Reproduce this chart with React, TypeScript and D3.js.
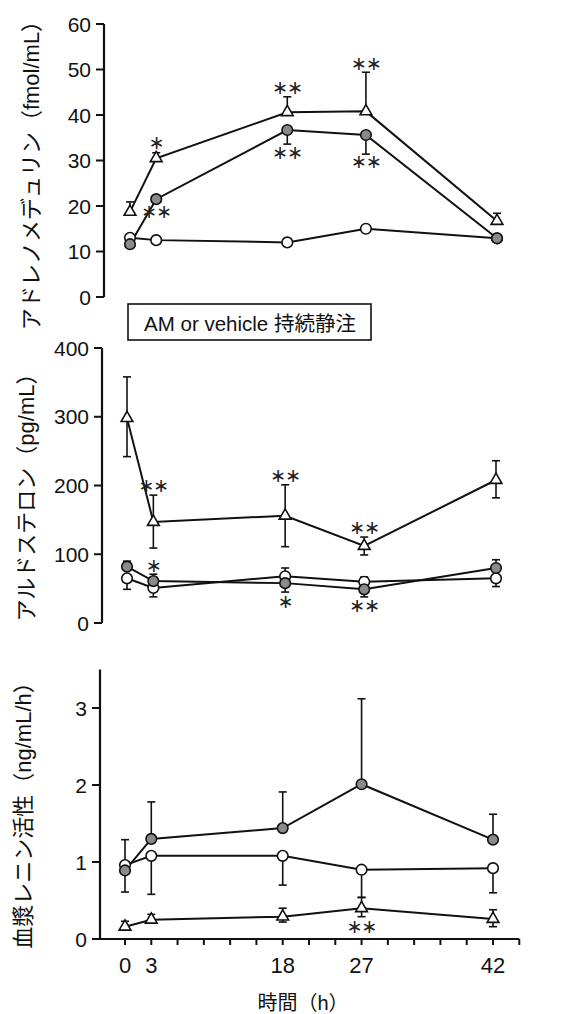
import React from "react";
import * as d3 from "d3";

// ---------- data ----------
const hours = [0, 3, 18, 27, 42];
const xTickLabels = [0, 3, 18, 27, 42];

// Panel 1: adrenomedullin (fmol/mL)
const amOpen = [13.0, 12.5, 12.0, 15.0, 12.9];
const amFilled = [11.6, 21.5, 36.7, 35.6, 12.9];
const amFilledLo = [null, null, 33.6, 31.4, null];
const amTri = [18.7, 30.5, 40.6, 40.8, 16.7];
const amTriHi = [20.9, 31.7, 44.0, 49.4, 18.4];
const amTicks = [0, 10, 20, 30, 40, 50, 60];
const amStars = [
  { t: 3, v: 33.8, s: "*" },
  { t: 18, v: 45.9, s: "**" },
  { t: 27, v: 51.2, s: "**" },
  { t: 3, v: 18.7, s: "**" },
  { t: 18, v: 31.6, s: "**" },
  { t: 27, v: 29.7, s: "**" },
];

// Panel 2: aldosterone (pg/mL)
const aldTri = [298, 147, 156, 112, 208];
const aldTriHi = [358, 186, 201, 125, 236];
const aldTriLo = [242, 109, 111, 99, 182];
const aldFilled = [82, 61, 58, 49, 80];
const aldFilledHi = [90, 71, null, null, 92];
const aldFilledLo = [null, null, 45, 38, null];
const aldOpen = [65, 51, 68, 60, 65];
const aldOpenHi = [null, null, 80, 67, null];
const aldOpenLo = [49, 38, null, null, 53];
const aldTicks = [0, 100, 200, 300, 400];
const aldStars = [
  { t: 3, v: 199, s: "**" },
  { t: 18, v: 214, s: "**" },
  { t: 27, v: 138, s: "**" },
  { t: 3, v: 83, s: "*" },
  { t: 18, v: 31, s: "*" },
  { t: 27, v: 25, s: "**" },
];

// Panel 3: plasma renin activity (ng/mL/h)
const praFilled = [0.89, 1.3, 1.44, 2.01, 1.29];
const praFilledHi = [1.29, 1.78, 1.91, 3.12, 1.62];
const praOpen = [0.96, 1.08, 1.08, 0.9, 0.92];
const praOpenLo = [0.61, 0.58, 0.7, 0.54, 0.6];
const praTri = [0.16, 0.25, 0.29, 0.4, 0.26];
const praTriHi = [0.23, 0.32, 0.4, 0.54, 0.38];
const praTriLo = [null, null, 0.22, 0.29, 0.16];
const praTicks = [0, 1, 2, 3];
const praStars = [{ t: 27, v: 0.16, s: "**" }];

const xMinorTicks = d3.range(0, 46, 3);

type Series = {
  kind: "open" | "filled" | "tri";
  v: number[];
  hi?: (number | null)[];
  lo?: (number | null)[];
};

const FONT = "'Liberation Sans', Arial, 'Noto Sans CJK JP', sans-serif";
const CJK = "'Liberation Sans', 'Noto Sans CJK JP', sans-serif";

function Panel(props: {
  axisX: number;
  xr: [number, number];
  yDomain: [number, number];
  yRange: [number, number];
  ticks: number[];
  series: Series[];
  stars: { t: number; v: number; s: string }[];
  title: string;
  titleX: number;
  titleY: number;
}) {
  const x = d3.scaleLinear().domain([0, 42]).range(props.xr);
  const y = d3.scaleLinear().domain(props.yDomain).range(props.yRange);
  const line = d3
    .line<number>()
    .x((_, i) => x(hours[i]))
    .y((d) => y(d));
  const ax = props.axisX;
  const tri = d3.symbol().type(d3.symbolTriangle).size(60);
  return (
    <g>
      <line x1={ax} x2={ax} y1={props.yRange[1]} y2={props.yRange[0]} stroke="#111" strokeWidth={2.2} />
      {props.ticks.map((t) => (
        <g key={t}>
          <line x1={ax - 8} x2={ax} y1={y(t)} y2={y(t)} stroke="#111" strokeWidth={2} />
          <text x={ax - 13} y={y(t)} dy="0.36em" textAnchor="end" fontSize={21} fontFamily={FONT} fill="#111">
            {t}
          </text>
        </g>
      ))}
      <text
        transform={`translate(${props.titleX},${props.titleY}) rotate(-90)`}
        textAnchor="middle"
        dy="0.36em"
        fontSize={22}
        fontFamily={CJK}
        fill="#111"
      >
        {props.title}
      </text>
      {props.series.map((s, si) => (
        <path key={"l" + si} d={line(s.v) || ""} fill="none" stroke="#111" strokeWidth={2} />
      ))}
      {props.series.map((s, si) =>
        s.v.map((v, i) => {
          const cx = x(hours[i]);
          const ends = [s.hi ? s.hi[i] : null, s.lo ? s.lo[i] : null];
          return ends.map((e, k) =>
            e == null ? null : (
              <g key={`e${si}-${i}-${k}`}>
                <line x1={cx} x2={cx} y1={y(v)} y2={y(e)} stroke="#111" strokeWidth={1.6} />
                <line x1={cx - 4} x2={cx + 4} y1={y(e)} y2={y(e)} stroke="#111" strokeWidth={1.6} />
              </g>
            )
          );
        })
      )}
      {props.series.map((s, si) =>
        s.v.map((v, i) => {
          const cx = x(hours[i]);
          const cy = y(v);
          if (s.kind === "tri")
            return (
              <path
                key={`m${si}-${i}`}
                d={tri() || ""}
                transform={`translate(${cx},${cy})`}
                fill="#fff"
                stroke="#111"
                strokeWidth={1.6}
              />
            );
          return (
            <circle
              key={`m${si}-${i}`}
              cx={cx}
              cy={cy}
              r={5.3}
              fill={s.kind === "open" ? "#fff" : "#8a8a8a"}
              stroke="#111"
              strokeWidth={1.6}
            />
          );
        })
      )}
      {props.stars.map((st, i) => (
        <text
          key={"s" + i}
          x={x(st.t)}
          y={y(st.v)}
          dy="0.33em"
          textAnchor="middle"
          fontSize={19}
          letterSpacing={-1}
          fontFamily="'DejaVu Sans', sans-serif"
          fill="#222"
        >
          {st.s === "**" ? "\u2217\u2217" : "\u2217"}
        </text>
      ))}
    </g>
  );
}

export default function App() {
  const xb = d3.scaleLinear().domain([0, 42]).range([125, 493]);
  return (
    <svg width={582} height={1014} style={{ position: "absolute", left: 0, top: 0, background: "#fff" }}>
      <rect width={582} height={1014} fill="#fff" />
      <Panel
        axisX={104}
        xr={[130, 497]}
        yDomain={[0, 60]}
        yRange={[297, 24]}
        ticks={amTicks}
        series={[
          { kind: "open", v: amOpen },
          { kind: "tri", v: amTri, hi: amTriHi },
          { kind: "filled", v: amFilled, lo: amFilledLo },
        ]}
        stars={amStars}
        title="アドレノメデュリン（fmol/mL）"
        titleX={31}
        titleY={170}
      />
      <rect x={128} y={304} width={243} height={36} fill="#fff" stroke="#111" strokeWidth={1.6} />
      <text x={250} y={331} textAnchor="middle" fontSize={20.5} fontFamily={CJK} fill="#111">
        AM or vehicle 持続静注
      </text>
      <Panel
        axisX={102}
        xr={[127, 496]}
        yDomain={[0, 400]}
        yRange={[623, 348]}
        ticks={aldTicks}
        series={[
          { kind: "tri", v: aldTri, hi: aldTriHi, lo: aldTriLo },
          { kind: "open", v: aldOpen, hi: aldOpenHi, lo: aldOpenLo },
          { kind: "filled", v: aldFilled, hi: aldFilledHi, lo: aldFilledLo },
        ]}
        stars={aldStars}
        title="アルドステロン（pg/mL）"
        titleX={26}
        titleY={492}
      />
      <Panel
        axisX={100}
        xr={[125, 493]}
        yDomain={[0, 3.5]}
        yRange={[939, 669.5]}
        ticks={praTicks}
        series={[
          { kind: "tri", v: praTri, hi: praTriHi, lo: praTriLo },
          { kind: "open", v: praOpen, lo: praOpenLo },
          { kind: "filled", v: praFilled, hi: praFilledHi },
        ]}
        stars={praStars}
        title="血漿レニン活性（ng/mL/h）"
        titleX={23}
        titleY={810}
      />
      {/* x axis */}
      <line x1={100} x2={xb(45)} y1={939} y2={939} stroke="#111" strokeWidth={2.2} />
      {xMinorTicks.map((t) => (
        <line key={t} x1={xb(t)} x2={xb(t)} y1={939} y2={945} stroke="#111" strokeWidth={2} />
      ))}
      {xTickLabels.map((t) => (
        <text key={t} x={xb(t)} y={973} textAnchor="middle" fontSize={22} fontFamily={FONT} fill="#111">
          {t}
        </text>
      ))}
      <text x={303} y={1010} textAnchor="middle" fontSize={20} fontFamily={CJK} fill="#111">
        時間（h）
      </text>
    </svg>
  );
}
